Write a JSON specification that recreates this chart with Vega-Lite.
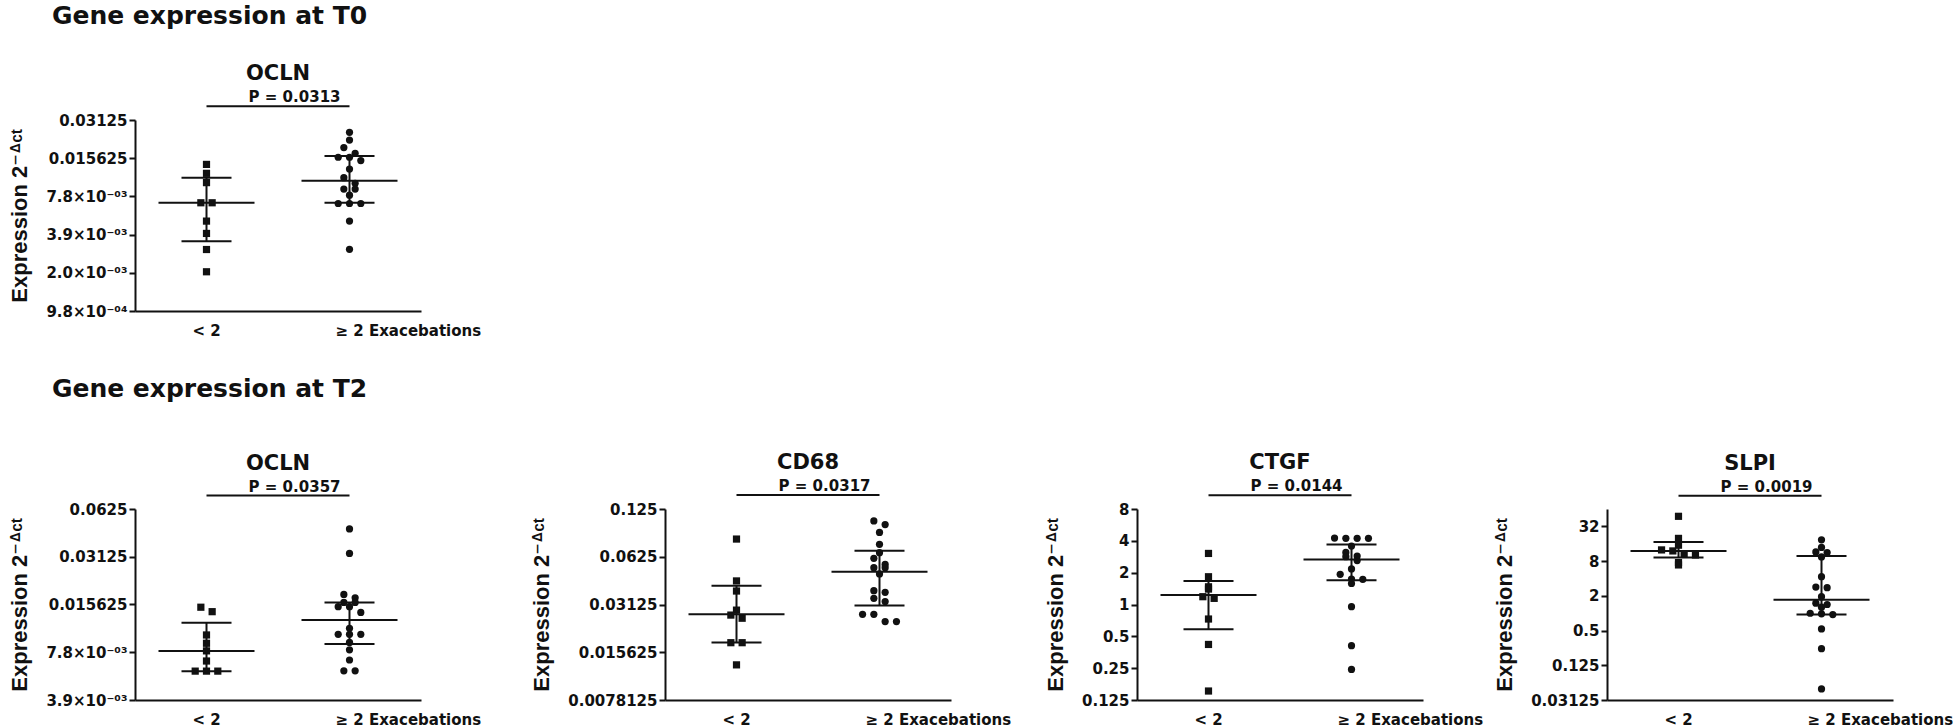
{
 "$schema": "https://vega.github.io/schema/vega-lite/v6.json",
 "background": "white",
 "padding": {"left": 8, "top": 4, "right": 0, "bottom": 0},
 "config": {
  "view": {"stroke": null},
  "font": "DejaVu Sans",
  "axis": {"domainColor": "#111", "domainWidth": 2, "tickColor": "#111", "tickWidth": 2, "labelColor": "#111", "labelFont": "DejaVu Sans", "labelFontWeight": "bold", "labelFontSize": 15, "titleColor": "#111", "grid": false},
  "axisY": {"tickSize": 6, "labelPadding": 2, "titleFont": "Liberation Sans, DejaVu Sans", "titleFontSize": 22, "titleFontWeight": "bold", "titlePadding": 14},
  "axisX": {"ticks": false, "labelAngle": 0, "labelAlign": "left", "labelOffset": -14, "labelPadding": 12},
  "title": {"font": "DejaVu Sans", "fontWeight": "bold", "color": "#111", "fontSize": 21, "offset": 6}
 },
 "datasets": {
  "pts": [
   {"panel": "T0 OCLN", "group": "< 2", "value": 0.01396},
   {"panel": "T0 OCLN", "group": "< 2", "value": 0.01187},
   {"panel": "T0 OCLN", "group": "< 2", "value": 0.01003},
   {"panel": "T0 OCLN", "group": "< 2", "value": 0.00696},
   {"panel": "T0 OCLN", "group": "< 2", "value": 0.00696},
   {"panel": "T0 OCLN", "group": "< 2", "value": 0.00499},
   {"panel": "T0 OCLN", "group": "< 2", "value": 0.00399},
   {"panel": "T0 OCLN", "group": "< 2", "value": 0.00298},
   {"panel": "T0 OCLN", "group": "< 2", "value": 0.00199},
   {"panel": "T0 OCLN", "group": "≥ 2", "value": 0.025},
   {"panel": "T0 OCLN", "group": "≥ 2", "value": 0.02172},
   {"panel": "T0 OCLN", "group": "≥ 2", "value": 0.01895},
   {"panel": "T0 OCLN", "group": "≥ 2", "value": 0.01708},
   {"panel": "T0 OCLN", "group": "≥ 2", "value": 0.0159},
   {"panel": "T0 OCLN", "group": "≥ 2", "value": 0.0159},
   {"panel": "T0 OCLN", "group": "≥ 2", "value": 0.01497},
   {"panel": "T0 OCLN", "group": "≥ 2", "value": 0.01282},
   {"panel": "T0 OCLN", "group": "≥ 2", "value": 0.01097},
   {"panel": "T0 OCLN", "group": "≥ 2", "value": 0.0099},
   {"panel": "T0 OCLN", "group": "≥ 2", "value": 0.00893},
   {"panel": "T0 OCLN", "group": "≥ 2", "value": 0.00893},
   {"panel": "T0 OCLN", "group": "≥ 2", "value": 0.00799},
   {"panel": "T0 OCLN", "group": "≥ 2", "value": 0.00687},
   {"panel": "T0 OCLN", "group": "≥ 2", "value": 0.00687},
   {"panel": "T0 OCLN", "group": "≥ 2", "value": 0.00687},
   {"panel": "T0 OCLN", "group": "≥ 2", "value": 0.00499},
   {"panel": "T0 OCLN", "group": "≥ 2", "value": 0.00299},
   {"panel": "T2 OCLN", "group": "< 2", "value": 0.01502},
   {"panel": "T2 OCLN", "group": "< 2", "value": 0.01408},
   {"panel": "T2 OCLN", "group": "< 2", "value": 0.01004},
   {"panel": "T2 OCLN", "group": "< 2", "value": 0.0089},
   {"panel": "T2 OCLN", "group": "< 2", "value": 0.00797},
   {"panel": "T2 OCLN", "group": "< 2", "value": 0.00688},
   {"panel": "T2 OCLN", "group": "< 2", "value": 0.00594},
   {"panel": "T2 OCLN", "group": "< 2", "value": 0.00594},
   {"panel": "T2 OCLN", "group": "< 2", "value": 0.00594},
   {"panel": "T2 OCLN", "group": "≥ 2", "value": 0.0468},
   {"panel": "T2 OCLN", "group": "≥ 2", "value": 0.0328},
   {"panel": "T2 OCLN", "group": "≥ 2", "value": 0.01808},
   {"panel": "T2 OCLN", "group": "≥ 2", "value": 0.01723},
   {"panel": "T2 OCLN", "group": "≥ 2", "value": 0.01609},
   {"panel": "T2 OCLN", "group": "≥ 2", "value": 0.01609},
   {"panel": "T2 OCLN", "group": "≥ 2", "value": 0.01514},
   {"panel": "T2 OCLN", "group": "≥ 2", "value": 0.01514},
   {"panel": "T2 OCLN", "group": "≥ 2", "value": 0.01393},
   {"panel": "T2 OCLN", "group": "≥ 2", "value": 0.01105},
   {"panel": "T2 OCLN", "group": "≥ 2", "value": 0.01013},
   {"panel": "T2 OCLN", "group": "≥ 2", "value": 0.01013},
   {"panel": "T2 OCLN", "group": "≥ 2", "value": 0.01013},
   {"panel": "T2 OCLN", "group": "≥ 2", "value": 0.00901},
   {"panel": "T2 OCLN", "group": "≥ 2", "value": 0.00809},
   {"panel": "T2 OCLN", "group": "≥ 2", "value": 0.00698},
   {"panel": "T2 OCLN", "group": "≥ 2", "value": 0.00597},
   {"panel": "T2 OCLN", "group": "≥ 2", "value": 0.00597},
   {"panel": "T2 CD68", "group": "< 2", "value": 0.0808},
   {"panel": "T2 CD68", "group": "< 2", "value": 0.044},
   {"panel": "T2 CD68", "group": "< 2", "value": 0.038},
   {"panel": "T2 CD68", "group": "< 2", "value": 0.0288},
   {"panel": "T2 CD68", "group": "< 2", "value": 0.0268},
   {"panel": "T2 CD68", "group": "< 2", "value": 0.0256},
   {"panel": "T2 CD68", "group": "< 2", "value": 0.01795},
   {"panel": "T2 CD68", "group": "< 2", "value": 0.01795},
   {"panel": "T2 CD68", "group": "< 2", "value": 0.01301},
   {"panel": "T2 CD68", "group": "≥ 2", "value": 0.1051},
   {"panel": "T2 CD68", "group": "≥ 2", "value": 0.0997},
   {"panel": "T2 CD68", "group": "≥ 2", "value": 0.0889},
   {"panel": "T2 CD68", "group": "≥ 2", "value": 0.0748},
   {"panel": "T2 CD68", "group": "≥ 2", "value": 0.0663},
   {"panel": "T2 CD68", "group": "≥ 2", "value": 0.0611},
   {"panel": "T2 CD68", "group": "≥ 2", "value": 0.0559},
   {"panel": "T2 CD68", "group": "≥ 2", "value": 0.0533},
   {"panel": "T2 CD68", "group": "≥ 2", "value": 0.0533},
   {"panel": "T2 CD68", "group": "≥ 2", "value": 0.0487},
   {"panel": "T2 CD68", "group": "≥ 2", "value": 0.0382},
   {"panel": "T2 CD68", "group": "≥ 2", "value": 0.0373},
   {"panel": "T2 CD68", "group": "≥ 2", "value": 0.0342},
   {"panel": "T2 CD68", "group": "≥ 2", "value": 0.0326},
   {"panel": "T2 CD68", "group": "≥ 2", "value": 0.0271},
   {"panel": "T2 CD68", "group": "≥ 2", "value": 0.0271},
   {"panel": "T2 CD68", "group": "≥ 2", "value": 0.0244},
   {"panel": "T2 CD68", "group": "≥ 2", "value": 0.0244},
   {"panel": "T2 CTGF", "group": "< 2", "value": 3.04},
   {"panel": "T2 CTGF", "group": "< 2", "value": 1.83},
   {"panel": "T2 CTGF", "group": "< 2", "value": 1.47},
   {"panel": "T2 CTGF", "group": "< 2", "value": 1.4},
   {"panel": "T2 CTGF", "group": "< 2", "value": 1.185},
   {"panel": "T2 CTGF", "group": "< 2", "value": 1.143},
   {"panel": "T2 CTGF", "group": "< 2", "value": 0.729},
   {"panel": "T2 CTGF", "group": "< 2", "value": 0.419},
   {"panel": "T2 CTGF", "group": "< 2", "value": 0.152},
   {"panel": "T2 CTGF", "group": "≥ 2", "value": 4.22},
   {"panel": "T2 CTGF", "group": "≥ 2", "value": 4.22},
   {"panel": "T2 CTGF", "group": "≥ 2", "value": 4.22},
   {"panel": "T2 CTGF", "group": "≥ 2", "value": 4.25},
   {"panel": "T2 CTGF", "group": "≥ 2", "value": 3.57},
   {"panel": "T2 CTGF", "group": "≥ 2", "value": 3.11},
   {"panel": "T2 CTGF", "group": "≥ 2", "value": 2.87},
   {"panel": "T2 CTGF", "group": "≥ 2", "value": 2.83},
   {"panel": "T2 CTGF", "group": "≥ 2", "value": 2.6},
   {"panel": "T2 CTGF", "group": "≥ 2", "value": 2.17},
   {"panel": "T2 CTGF", "group": "≥ 2", "value": 1.93},
   {"panel": "T2 CTGF", "group": "≥ 2", "value": 1.74},
   {"panel": "T2 CTGF", "group": "≥ 2", "value": 1.73},
   {"panel": "T2 CTGF", "group": "≥ 2", "value": 1.58},
   {"panel": "T2 CTGF", "group": "≥ 2", "value": 0.953},
   {"panel": "T2 CTGF", "group": "≥ 2", "value": 0.408},
   {"panel": "T2 CTGF", "group": "≥ 2", "value": 0.243},
   {"panel": "T2 SLPI", "group": "< 2", "value": 47.8},
   {"panel": "T2 SLPI", "group": "< 2", "value": 19.8},
   {"panel": "T2 SLPI", "group": "< 2", "value": 15.1},
   {"panel": "T2 SLPI", "group": "< 2", "value": 12.5},
   {"panel": "T2 SLPI", "group": "< 2", "value": 12.0},
   {"panel": "T2 SLPI", "group": "< 2", "value": 10.5},
   {"panel": "T2 SLPI", "group": "< 2", "value": 10.2},
   {"panel": "T2 SLPI", "group": "< 2", "value": 7.54},
   {"panel": "T2 SLPI", "group": "< 2", "value": 6.86},
   {"panel": "T2 SLPI", "group": "≥ 2", "value": 18.69},
   {"panel": "T2 SLPI", "group": "≥ 2", "value": 13.78},
   {"panel": "T2 SLPI", "group": "≥ 2", "value": 11.55},
   {"panel": "T2 SLPI", "group": "≥ 2", "value": 11.27},
   {"panel": "T2 SLPI", "group": "≥ 2", "value": 9.45},
   {"panel": "T2 SLPI", "group": "≥ 2", "value": 4.3},
   {"panel": "T2 SLPI", "group": "≥ 2", "value": 2.83},
   {"panel": "T2 SLPI", "group": "≥ 2", "value": 2.77},
   {"panel": "T2 SLPI", "group": "≥ 2", "value": 1.93},
   {"panel": "T2 SLPI", "group": "≥ 2", "value": 1.49},
   {"panel": "T2 SLPI", "group": "≥ 2", "value": 1.415},
   {"panel": "T2 SLPI", "group": "≥ 2", "value": 1.27},
   {"panel": "T2 SLPI", "group": "≥ 2", "value": 0.998},
   {"panel": "T2 SLPI", "group": "≥ 2", "value": 0.974},
   {"panel": "T2 SLPI", "group": "≥ 2", "value": 0.947},
   {"panel": "T2 SLPI", "group": "≥ 2", "value": 0.533},
   {"panel": "T2 SLPI", "group": "≥ 2", "value": 0.242},
   {"panel": "T2 SLPI", "group": "≥ 2", "value": 0.0487}
  ],
  "stats": [
   {"panel": "T0 OCLN", "group": "< 2", "median": 0.00696, "q1": 0.00346, "q3": 0.01097},
   {"panel": "T0 OCLN", "group": "≥ 2", "median": 0.0104, "q1": 0.00696, "q3": 0.01628},
   {"panel": "T2 OCLN", "group": "< 2", "median": 0.00797, "q1": 0.00594, "q3": 0.01201},
   {"panel": "T2 OCLN", "group": "≥ 2", "median": 0.01249, "q1": 0.00881, "q3": 0.01609},
   {"panel": "T2 CD68", "group": "< 2", "median": 0.0271, "q1": 0.018, "q3": 0.0411},
   {"panel": "T2 CD68", "group": "≥ 2", "median": 0.0503, "q1": 0.0308, "q3": 0.0683},
   {"panel": "T2 CTGF", "group": "< 2", "median": 1.229, "q1": 0.582, "q3": 1.669},
   {"panel": "T2 CTGF", "group": "≥ 2", "median": 2.67, "q1": 1.7, "q3": 3.7},
   {"panel": "T2 SLPI", "group": "< 2", "median": 12.0, "q1": 9.22, "q3": 17.2},
   {"panel": "T2 SLPI", "group": "≥ 2", "median": 1.71, "q1": 0.947, "q3": 9.84}
  ],
  "ann": [
   {"panel": "T0 OCLN", "label": "P = 0.0313", "from": "< 2", "to": "≥ 2"},
   {"panel": "T2 OCLN", "label": "P = 0.0357", "from": "< 2", "to": "≥ 2"},
   {"panel": "T2 CD68", "label": "P = 0.0317", "from": "< 2", "to": "≥ 2"},
   {"panel": "T2 CTGF", "label": "P = 0.0144", "from": "< 2", "to": "≥ 2"},
   {"panel": "T2 SLPI", "label": "P = 0.0019", "from": "< 2", "to": "≥ 2"}
  ]
 },
 "spacing": 39,
 "vconcat": [
  {
   "title": {"text": "Gene expression at T0", "fontSize": 25, "anchor": "start", "dx": 43, "offset": 34},
   "hconcat": [
    {
     "width": 286, "height": 191,
     "title": {"text": "OCLN"},
     "layer": [
      {"data": {"name": "pts"},
       "transform": [
        {"filter": "datum.panel == 'T0 OCLN'"},
        {"calculate": "floor(log(datum.value) / LN2 * 38.13 / 8)", "as": "row"},
        {"window": [{"op": "row_number", "as": "r"}, {"op": "count", "as": "n"}], "groupby": ["group", "row"], "sort": [{"field": "value", "order": "descending"}], "frame": [null, null]},
        {"calculate": "datum.r - (datum.n + 1) / 2", "as": "off"}
       ],
       "mark": {"type": "point", "filled": true, "color": "#111", "opacity": 1, "size": 52},
       "encoding": {
        "x": {"field": "group", "type": "nominal", "scale": {"domain": ["< 2", "≥ 2"], "paddingInner": 0, "paddingOuter": 0}, "axis": {"title": null, "labelExpr": "datum.value == '≥ 2' ? '≥ 2 Exacebations' : datum.value"}},
        "xOffset": {"field": "off", "type": "quantitative", "scale": {"domain": [-1, 1], "range": [60.2, 82.8]}},
        "y": {"field": "value", "type": "quantitative", "scale": {"type": "log", "base": 2, "domain": [0.0009765625, 0.03125], "nice": false}, "axis": {"title": "Expression 2⁻ᐞᶜᵗ", "values": [0.0009765625, 0.001953125, 0.00390625, 0.0078125, 0.015625, 0.03125], "labelExpr": "datum.value < 0.0015 ? '9.8×10⁻⁰⁴' : datum.value < 0.003 ? '2.0×10⁻⁰³' : datum.value < 0.005 ? '3.9×10⁻⁰³' : datum.value < 0.01 ? '7.8×10⁻⁰³' : toString(datum.value)"}},
        "shape": {"field": "group", "type": "nominal", "scale": {"domain": ["< 2", "≥ 2"], "range": ["square", "circle"]}, "legend": null}
       }},
      {"data": {"name": "stats"}, "transform": [{"filter": "datum.panel == 'T0 OCLN'"}],
       "mark": {"type": "tick", "color": "#111", "size": 96, "thickness": 2, "opacity": 1},
       "encoding": {"x": {"field": "group", "type": "nominal"}, "y": {"field": "median", "type": "quantitative", "scale": {"type": "log", "base": 2, "domain": [0.0009765625, 0.03125], "nice": false}}}},
      {"data": {"name": "stats"}, "transform": [{"filter": "datum.panel == 'T0 OCLN'"}],
       "mark": {"type": "tick", "color": "#111", "size": 50, "thickness": 2, "opacity": 1},
       "encoding": {"x": {"field": "group", "type": "nominal"}, "y": {"field": "q1", "type": "quantitative", "scale": {"type": "log", "base": 2, "domain": [0.0009765625, 0.03125], "nice": false}}}},
      {"data": {"name": "stats"}, "transform": [{"filter": "datum.panel == 'T0 OCLN'"}],
       "mark": {"type": "tick", "color": "#111", "size": 50, "thickness": 2, "opacity": 1},
       "encoding": {"x": {"field": "group", "type": "nominal"}, "y": {"field": "q3", "type": "quantitative", "scale": {"type": "log", "base": 2, "domain": [0.0009765625, 0.03125], "nice": false}}}},
      {"data": {"name": "stats"}, "transform": [{"filter": "datum.panel == 'T0 OCLN'"}],
       "mark": {"type": "rule", "color": "#111", "strokeWidth": 2},
       "encoding": {"x": {"field": "group", "type": "nominal"}, "y": {"field": "q1", "type": "quantitative", "scale": {"type": "log", "base": 2, "domain": [0.0009765625, 0.03125], "nice": false}}, "y2": {"field": "q3"}}},
      {"data": {"name": "ann"}, "transform": [{"filter": "datum.panel == 'T0 OCLN'"}],
       "mark": {"type": "rule", "color": "#111", "strokeWidth": 2},
       "encoding": {"x": {"field": "from", "type": "nominal"}, "x2": {"field": "to"}, "y": {"datum": 0.0401, "type": "quantitative", "scale": {"type": "log", "base": 2, "domain": [0.0009765625, 0.03125], "nice": false}}}},
      {"data": {"name": "ann"}, "transform": [{"filter": "datum.panel == 'T0 OCLN'"}],
       "mark": {"type": "text", "align": "right", "baseline": "alphabetic", "dx": -9, "dy": -4, "font": "DejaVu Sans", "fontWeight": "bold", "fontSize": 15, "color": "#111"},
       "encoding": {"x": {"field": "to", "type": "nominal"}, "y": {"datum": 0.0401, "type": "quantitative", "scale": {"type": "log", "base": 2, "domain": [0.0009765625, 0.03125], "nice": false}}, "text": {"field": "label"}}}
     ]
    }
   ]
  },
  {
   "title": {"text": "Gene expression at T2", "fontSize": 25, "anchor": "start", "dx": 43, "offset": 50},
   "bounds": "flush",
   "spacing": 0,
   "hconcat": [
    {
     "width": 286, "height": 191,
     "title": {"text": "OCLN"},
     "layer": [
      {"data": {"name": "pts"},
       "transform": [
        {"filter": "datum.panel == 'T2 OCLN'"},
        {"calculate": "floor(log(datum.value) / LN2 * 47.75 / 8)", "as": "row"},
        {"window": [{"op": "row_number", "as": "r"}, {"op": "count", "as": "n"}], "groupby": ["group", "row"], "sort": [{"field": "value", "order": "descending"}], "frame": [null, null]},
        {"calculate": "datum.r - (datum.n + 1) / 2", "as": "off"}
       ],
       "mark": {"type": "point", "filled": true, "color": "#111", "opacity": 1, "size": 52},
       "encoding": {
        "x": {"field": "group", "type": "nominal", "scale": {"domain": ["< 2", "≥ 2"], "paddingInner": 0, "paddingOuter": 0}, "axis": {"title": null, "labelExpr": "datum.value == '≥ 2' ? '≥ 2 Exacebations' : datum.value"}},
        "xOffset": {"field": "off", "type": "quantitative", "scale": {"domain": [-1, 1], "range": [60.2, 82.8]}},
        "y": {"field": "value", "type": "quantitative", "scale": {"type": "log", "base": 2, "domain": [0.00390625, 0.0625], "nice": false}, "axis": {"title": "Expression 2⁻ᐞᶜᵗ", "values": [0.00390625, 0.0078125, 0.015625, 0.03125, 0.0625], "labelExpr": "datum.value < 0.005 ? '3.9×10⁻⁰³' : datum.value < 0.01 ? '7.8×10⁻⁰³' : toString(datum.value)"}},
        "shape": {"field": "group", "type": "nominal", "scale": {"domain": ["< 2", "≥ 2"], "range": ["square", "circle"]}, "legend": null}
       }},
      {"data": {"name": "stats"}, "transform": [{"filter": "datum.panel == 'T2 OCLN'"}],
       "mark": {"type": "tick", "color": "#111", "size": 96, "thickness": 2, "opacity": 1},
       "encoding": {"x": {"field": "group", "type": "nominal"}, "y": {"field": "median", "type": "quantitative", "scale": {"type": "log", "base": 2, "domain": [0.00390625, 0.0625], "nice": false}}}},
      {"data": {"name": "stats"}, "transform": [{"filter": "datum.panel == 'T2 OCLN'"}],
       "mark": {"type": "tick", "color": "#111", "size": 50, "thickness": 2, "opacity": 1},
       "encoding": {"x": {"field": "group", "type": "nominal"}, "y": {"field": "q1", "type": "quantitative", "scale": {"type": "log", "base": 2, "domain": [0.00390625, 0.0625], "nice": false}}}},
      {"data": {"name": "stats"}, "transform": [{"filter": "datum.panel == 'T2 OCLN'"}],
       "mark": {"type": "tick", "color": "#111", "size": 50, "thickness": 2, "opacity": 1},
       "encoding": {"x": {"field": "group", "type": "nominal"}, "y": {"field": "q3", "type": "quantitative", "scale": {"type": "log", "base": 2, "domain": [0.00390625, 0.0625], "nice": false}}}},
      {"data": {"name": "stats"}, "transform": [{"filter": "datum.panel == 'T2 OCLN'"}],
       "mark": {"type": "rule", "color": "#111", "strokeWidth": 2},
       "encoding": {"x": {"field": "group", "type": "nominal"}, "y": {"field": "q1", "type": "quantitative", "scale": {"type": "log", "base": 2, "domain": [0.00390625, 0.0625], "nice": false}}, "y2": {"field": "q3"}}},
      {"data": {"name": "ann"}, "transform": [{"filter": "datum.panel == 'T2 OCLN'"}],
       "mark": {"type": "rule", "color": "#111", "strokeWidth": 2},
       "encoding": {"x": {"field": "from", "type": "nominal"}, "x2": {"field": "to"}, "y": {"datum": 0.0759, "type": "quantitative", "scale": {"type": "log", "base": 2, "domain": [0.00390625, 0.0625], "nice": false}}}},
      {"data": {"name": "ann"}, "transform": [{"filter": "datum.panel == 'T2 OCLN'"}],
       "mark": {"type": "text", "align": "right", "baseline": "alphabetic", "dx": -9, "dy": -4, "font": "DejaVu Sans", "fontWeight": "bold", "fontSize": 15, "color": "#111"},
       "encoding": {"x": {"field": "to", "type": "nominal"}, "y": {"datum": 0.0759, "type": "quantitative", "scale": {"type": "log", "base": 2, "domain": [0.00390625, 0.0625], "nice": false}}, "text": {"field": "label"}}}
     ]
    },
    {"width": 244, "height": 191, "data": {"values": []}, "mark": {"type": "point", "opacity": 0}, "encoding": {}},
    {
     "width": 286, "height": 191,
     "title": {"text": "CD68"},
     "layer": [
      {"data": {"name": "pts"},
       "transform": [
        {"filter": "datum.panel == 'T2 CD68'"},
        {"calculate": "floor(log(datum.value) / LN2 * 47.75 / 8)", "as": "row"},
        {"window": [{"op": "row_number", "as": "r"}, {"op": "count", "as": "n"}], "groupby": ["group", "row"], "sort": [{"field": "value", "order": "descending"}], "frame": [null, null]},
        {"calculate": "datum.r - (datum.n + 1) / 2", "as": "off"}
       ],
       "mark": {"type": "point", "filled": true, "color": "#111", "opacity": 1, "size": 52},
       "encoding": {
        "x": {"field": "group", "type": "nominal", "scale": {"domain": ["< 2", "≥ 2"], "paddingInner": 0, "paddingOuter": 0}, "axis": {"title": null, "labelExpr": "datum.value == '≥ 2' ? '≥ 2 Exacebations' : datum.value"}},
        "xOffset": {"field": "off", "type": "quantitative", "scale": {"domain": [-1, 1], "range": [60.2, 82.8]}},
        "y": {"field": "value", "type": "quantitative", "scale": {"type": "log", "base": 2, "domain": [0.0078125, 0.125], "nice": false}, "axis": {"title": "Expression 2⁻ᐞᶜᵗ", "values": [0.0078125, 0.015625, 0.03125, 0.0625, 0.125], "labelExpr": "toString(datum.value)"}},
        "shape": {"field": "group", "type": "nominal", "scale": {"domain": ["< 2", "≥ 2"], "range": ["square", "circle"]}, "legend": null}
       }},
      {"data": {"name": "stats"}, "transform": [{"filter": "datum.panel == 'T2 CD68'"}],
       "mark": {"type": "tick", "color": "#111", "size": 96, "thickness": 2, "opacity": 1},
       "encoding": {"x": {"field": "group", "type": "nominal"}, "y": {"field": "median", "type": "quantitative", "scale": {"type": "log", "base": 2, "domain": [0.0078125, 0.125], "nice": false}}}},
      {"data": {"name": "stats"}, "transform": [{"filter": "datum.panel == 'T2 CD68'"}],
       "mark": {"type": "tick", "color": "#111", "size": 50, "thickness": 2, "opacity": 1},
       "encoding": {"x": {"field": "group", "type": "nominal"}, "y": {"field": "q1", "type": "quantitative", "scale": {"type": "log", "base": 2, "domain": [0.0078125, 0.125], "nice": false}}}},
      {"data": {"name": "stats"}, "transform": [{"filter": "datum.panel == 'T2 CD68'"}],
       "mark": {"type": "tick", "color": "#111", "size": 50, "thickness": 2, "opacity": 1},
       "encoding": {"x": {"field": "group", "type": "nominal"}, "y": {"field": "q3", "type": "quantitative", "scale": {"type": "log", "base": 2, "domain": [0.0078125, 0.125], "nice": false}}}},
      {"data": {"name": "stats"}, "transform": [{"filter": "datum.panel == 'T2 CD68'"}],
       "mark": {"type": "rule", "color": "#111", "strokeWidth": 2},
       "encoding": {"x": {"field": "group", "type": "nominal"}, "y": {"field": "q1", "type": "quantitative", "scale": {"type": "log", "base": 2, "domain": [0.0078125, 0.125], "nice": false}}, "y2": {"field": "q3"}}},
      {"data": {"name": "ann"}, "transform": [{"filter": "datum.panel == 'T2 CD68'"}],
       "mark": {"type": "rule", "color": "#111", "strokeWidth": 2},
       "encoding": {"x": {"field": "from", "type": "nominal"}, "x2": {"field": "to"}, "y": {"datum": 0.153, "type": "quantitative", "scale": {"type": "log", "base": 2, "domain": [0.0078125, 0.125], "nice": false}}}},
      {"data": {"name": "ann"}, "transform": [{"filter": "datum.panel == 'T2 CD68'"}],
       "mark": {"type": "text", "align": "right", "baseline": "alphabetic", "dx": -9, "dy": -4, "font": "DejaVu Sans", "fontWeight": "bold", "fontSize": 15, "color": "#111"},
       "encoding": {"x": {"field": "to", "type": "nominal"}, "y": {"datum": 0.153, "type": "quantitative", "scale": {"type": "log", "base": 2, "domain": [0.0078125, 0.125], "nice": false}}, "text": {"field": "label"}}}
     ]
    },
    {"width": 186, "height": 191, "data": {"values": []}, "mark": {"type": "point", "opacity": 0}, "encoding": {}},
    {
     "width": 286, "height": 191,
     "title": {"text": "CTGF"},
     "layer": [
      {"data": {"name": "pts"},
       "transform": [
        {"filter": "datum.panel == 'T2 CTGF'"},
        {"calculate": "floor(log(datum.value) / LN2 * 31.83 / 8)", "as": "row"},
        {"window": [{"op": "row_number", "as": "r"}, {"op": "count", "as": "n"}], "groupby": ["group", "row"], "sort": [{"field": "value", "order": "descending"}], "frame": [null, null]},
        {"calculate": "datum.r - (datum.n + 1) / 2", "as": "off"}
       ],
       "mark": {"type": "point", "filled": true, "color": "#111", "opacity": 1, "size": 52},
       "encoding": {
        "x": {"field": "group", "type": "nominal", "scale": {"domain": ["< 2", "≥ 2"], "paddingInner": 0, "paddingOuter": 0}, "axis": {"title": null, "labelExpr": "datum.value == '≥ 2' ? '≥ 2 Exacebations' : datum.value"}},
        "xOffset": {"field": "off", "type": "quantitative", "scale": {"domain": [-1, 1], "range": [60.2, 82.8]}},
        "y": {"field": "value", "type": "quantitative", "scale": {"type": "log", "base": 2, "domain": [0.125, 8], "nice": false}, "axis": {"title": "Expression 2⁻ᐞᶜᵗ", "values": [0.125, 0.25, 0.5, 1, 2, 4, 8], "labelExpr": "toString(datum.value)"}},
        "shape": {"field": "group", "type": "nominal", "scale": {"domain": ["< 2", "≥ 2"], "range": ["square", "circle"]}, "legend": null}
       }},
      {"data": {"name": "stats"}, "transform": [{"filter": "datum.panel == 'T2 CTGF'"}],
       "mark": {"type": "tick", "color": "#111", "size": 96, "thickness": 2, "opacity": 1},
       "encoding": {"x": {"field": "group", "type": "nominal"}, "y": {"field": "median", "type": "quantitative", "scale": {"type": "log", "base": 2, "domain": [0.125, 8], "nice": false}}}},
      {"data": {"name": "stats"}, "transform": [{"filter": "datum.panel == 'T2 CTGF'"}],
       "mark": {"type": "tick", "color": "#111", "size": 50, "thickness": 2, "opacity": 1},
       "encoding": {"x": {"field": "group", "type": "nominal"}, "y": {"field": "q1", "type": "quantitative", "scale": {"type": "log", "base": 2, "domain": [0.125, 8], "nice": false}}}},
      {"data": {"name": "stats"}, "transform": [{"filter": "datum.panel == 'T2 CTGF'"}],
       "mark": {"type": "tick", "color": "#111", "size": 50, "thickness": 2, "opacity": 1},
       "encoding": {"x": {"field": "group", "type": "nominal"}, "y": {"field": "q3", "type": "quantitative", "scale": {"type": "log", "base": 2, "domain": [0.125, 8], "nice": false}}}},
      {"data": {"name": "stats"}, "transform": [{"filter": "datum.panel == 'T2 CTGF'"}],
       "mark": {"type": "rule", "color": "#111", "strokeWidth": 2},
       "encoding": {"x": {"field": "group", "type": "nominal"}, "y": {"field": "q1", "type": "quantitative", "scale": {"type": "log", "base": 2, "domain": [0.125, 8], "nice": false}}, "y2": {"field": "q3"}}},
      {"data": {"name": "ann"}, "transform": [{"filter": "datum.panel == 'T2 CTGF'"}],
       "mark": {"type": "rule", "color": "#111", "strokeWidth": 2},
       "encoding": {"x": {"field": "from", "type": "nominal"}, "x2": {"field": "to"}, "y": {"datum": 10.8, "type": "quantitative", "scale": {"type": "log", "base": 2, "domain": [0.125, 8], "nice": false}}}},
      {"data": {"name": "ann"}, "transform": [{"filter": "datum.panel == 'T2 CTGF'"}],
       "mark": {"type": "text", "align": "right", "baseline": "alphabetic", "dx": -9, "dy": -4, "font": "DejaVu Sans", "fontWeight": "bold", "fontSize": 15, "color": "#111"},
       "encoding": {"x": {"field": "to", "type": "nominal"}, "y": {"datum": 10.8, "type": "quantitative", "scale": {"type": "log", "base": 2, "domain": [0.125, 8], "nice": false}}, "text": {"field": "label"}}}
     ]
    },
    {"width": 184, "height": 191, "data": {"values": []}, "mark": {"type": "point", "opacity": 0}, "encoding": {}},
    {
     "width": 286, "height": 191,
     "title": {"text": "SLPI"},
     "layer": [
      {"data": {"name": "pts"},
       "transform": [
        {"filter": "datum.panel == 'T2 SLPI'"},
        {"calculate": "floor(log(datum.value) / LN2 * 17.27 / 8)", "as": "row"},
        {"window": [{"op": "row_number", "as": "r"}, {"op": "count", "as": "n"}], "groupby": ["group", "row"], "sort": [{"field": "value", "order": "descending"}], "frame": [null, null]},
        {"calculate": "datum.r - (datum.n + 1) / 2", "as": "off"}
       ],
       "mark": {"type": "point", "filled": true, "color": "#111", "opacity": 1, "size": 52},
       "encoding": {
        "x": {"field": "group", "type": "nominal", "scale": {"domain": ["< 2", "≥ 2"], "paddingInner": 0, "paddingOuter": 0}, "axis": {"title": null, "labelExpr": "datum.value == '≥ 2' ? '≥ 2 Exacebations' : datum.value"}},
        "xOffset": {"field": "off", "type": "quantitative", "scale": {"domain": [-1, 1], "range": [60.2, 82.8]}},
        "y": {"field": "value", "type": "quantitative", "scale": {"type": "log", "base": 2, "domain": [0.03125, 64], "nice": false}, "axis": {"title": "Expression 2⁻ᐞᶜᵗ", "values": [0.03125, 0.125, 0.5, 2, 8, 32], "labelExpr": "toString(datum.value)"}},
        "shape": {"field": "group", "type": "nominal", "scale": {"domain": ["< 2", "≥ 2"], "range": ["square", "circle"]}, "legend": null}
       }},
      {"data": {"name": "stats"}, "transform": [{"filter": "datum.panel == 'T2 SLPI'"}],
       "mark": {"type": "tick", "color": "#111", "size": 96, "thickness": 2, "opacity": 1},
       "encoding": {"x": {"field": "group", "type": "nominal"}, "y": {"field": "median", "type": "quantitative", "scale": {"type": "log", "base": 2, "domain": [0.03125, 64], "nice": false}}}},
      {"data": {"name": "stats"}, "transform": [{"filter": "datum.panel == 'T2 SLPI'"}],
       "mark": {"type": "tick", "color": "#111", "size": 50, "thickness": 2, "opacity": 1},
       "encoding": {"x": {"field": "group", "type": "nominal"}, "y": {"field": "q1", "type": "quantitative", "scale": {"type": "log", "base": 2, "domain": [0.03125, 64], "nice": false}}}},
      {"data": {"name": "stats"}, "transform": [{"filter": "datum.panel == 'T2 SLPI'"}],
       "mark": {"type": "tick", "color": "#111", "size": 50, "thickness": 2, "opacity": 1},
       "encoding": {"x": {"field": "group", "type": "nominal"}, "y": {"field": "q3", "type": "quantitative", "scale": {"type": "log", "base": 2, "domain": [0.03125, 64], "nice": false}}}},
      {"data": {"name": "stats"}, "transform": [{"filter": "datum.panel == 'T2 SLPI'"}],
       "mark": {"type": "rule", "color": "#111", "strokeWidth": 2},
       "encoding": {"x": {"field": "group", "type": "nominal"}, "y": {"field": "q1", "type": "quantitative", "scale": {"type": "log", "base": 2, "domain": [0.03125, 64], "nice": false}}, "y2": {"field": "q3"}}},
      {"data": {"name": "ann"}, "transform": [{"filter": "datum.panel == 'T2 SLPI'"}],
       "mark": {"type": "rule", "color": "#111", "strokeWidth": 2},
       "encoding": {"x": {"field": "from", "type": "nominal"}, "x2": {"field": "to"}, "y": {"datum": 109, "type": "quantitative", "scale": {"type": "log", "base": 2, "domain": [0.03125, 64], "nice": false}}}},
      {"data": {"name": "ann"}, "transform": [{"filter": "datum.panel == 'T2 SLPI'"}],
       "mark": {"type": "text", "align": "right", "baseline": "alphabetic", "dx": -9, "dy": -4, "font": "DejaVu Sans", "fontWeight": "bold", "fontSize": 15, "color": "#111"},
       "encoding": {"x": {"field": "to", "type": "nominal"}, "y": {"datum": 109, "type": "quantitative", "scale": {"type": "log", "base": 2, "domain": [0.03125, 64], "nice": false}}, "text": {"field": "label"}}}
     ]
    }
   ]
  }
 ]
}
